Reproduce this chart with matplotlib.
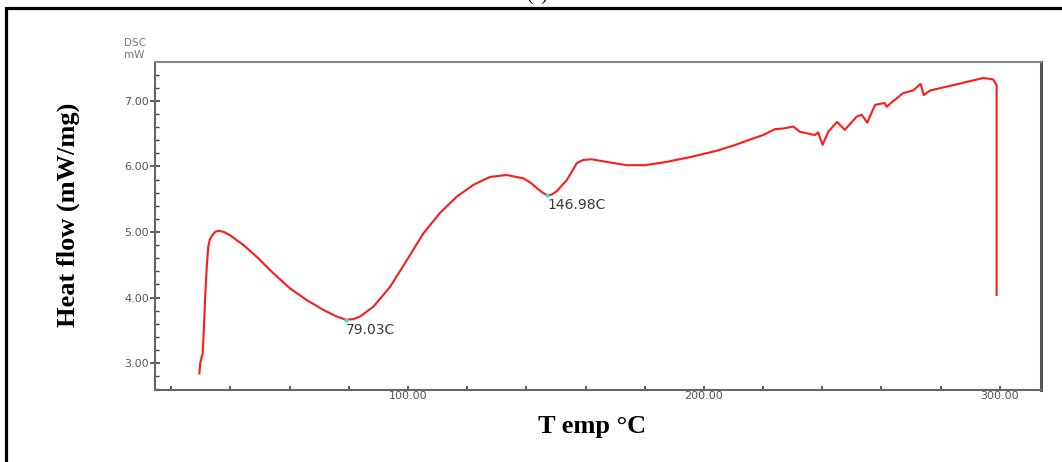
import matplotlib
matplotlib.use("Agg")
import matplotlib.pyplot as plt
from matplotlib.ticker import MultipleLocator, FixedLocator
from matplotlib.patches import Rectangle

# DSC trace: temperature (C) and heat flow (mW/mg)
temp = [29.5, 29.8, 30.6, 31.0, 31.4, 32.0, 32.5, 33.0, 33.7, 34.8, 35.9,
        37.8, 39.9, 44.4, 48.9, 54.5, 60.1, 65.8, 71.4, 75.9, 79.03,
        81.5, 83.8, 88.3, 93.9, 99.6, 105.2, 110.8, 116.5, 122.1, 127.7,
        133.3, 138.9, 141.5, 143.5, 145.5, 146.98, 148.5, 150.2, 153.6,
        155.5, 157.0, 159.2, 162.0, 167.1, 173.9, 180.0, 187.4, 196.0, 204.3,
        210.0, 215.5, 220.0, 224.0, 226.8, 230.2, 232.4, 237.5, 238.6, 240.1,
        242.0, 245.0, 247.6, 251.6, 253.3, 255.2, 257.8, 261.1, 261.7, 264.0,
        267.3, 270.7, 273.2, 274.3, 276.4, 283.1, 288.7, 294.4, 297.7, 298.9,
        298.9]
heat = [2.84, 3.00, 3.15, 3.50, 3.96, 4.47, 4.78, 4.88, 4.94, 5.00, 5.02,
        5.00, 4.95, 4.80, 4.62, 4.37, 4.14, 3.96, 3.81, 3.71, 3.66,
        3.67, 3.71, 3.86, 4.16, 4.57, 4.98, 5.29, 5.54, 5.72, 5.84,
        5.87, 5.82, 5.75, 5.67, 5.60, 5.56, 5.57, 5.62, 5.79,
        5.93, 6.05, 6.10, 6.11, 6.07, 6.02, 6.02, 6.07, 6.15, 6.24,
        6.32, 6.41, 6.48, 6.57, 6.58, 6.61, 6.53, 6.48, 6.52, 6.33,
        6.53, 6.68, 6.56, 6.76, 6.79, 6.67, 6.94, 6.97, 6.91, 7.00,
        7.12, 7.16, 7.26, 7.09, 7.16, 7.23, 7.29, 7.35, 7.33, 7.24,
        4.04]

# marked minima
peak_temps = [79.03, 146.98]
peak_vals = [3.66, 5.56]

x_ticks = [100, 200, 300]
y_ticks = [3, 4, 5, 6, 7]

fig = plt.figure(figsize=(10.62, 4.62), dpi=100)
ax = fig.add_axes([155 / 1062, 1 - 390 / 462, (1041 - 155) / 1062, (390 - 62) / 462])

ax.plot(temp, heat, color="#ff1a1a", lw=1.5, solid_joinstyle="round")
ax.plot(peak_temps, peak_vals, "o", color="#33e0e0", ms=3, mec="none")
for t, v in zip(peak_temps, peak_vals):
    ax.annotate(f"{t:.2f}C", (t, v), xytext=(0, -2), textcoords="offset points",
                ha="left", va="top", fontsize=10, color="#3a3a3a",
                family="DejaVu Sans")

ax.set_xlim(14.5, 313.9)
ax.set_ylim(2.588, 7.595)

ax.xaxis.set_major_locator(FixedLocator(x_ticks))
ax.xaxis.set_minor_locator(MultipleLocator(20))
ax.yaxis.set_major_locator(FixedLocator(y_ticks))
ax.yaxis.set_minor_locator(MultipleLocator(0.2))
ax.set_xticklabels([f"{v:.2f}" for v in x_ticks])
ax.set_yticklabels([f"{v:.2f}" for v in y_ticks])

ax.tick_params(axis="x", which="both", direction="in", length=3, width=1.2,
               color="#444444", pad=1, labelsize=8, labelcolor="#555555")
ax.tick_params(axis="y", which="major", direction="inout", length=7, width=1.2,
               color="#444444", pad=1, labelsize=8, labelcolor="#555555")
ax.tick_params(axis="y", which="minor", direction="in", length=3, width=1.0,
               color="#444444")

for name, sp in ax.spines.items():
    sp.set_color("#666666")
    sp.set_linewidth(1.5)
ax.spines["right"].set_linewidth(2.2)
ax.spines["right"].set_color("#555555")
ax.spines["top"].set_color("#888888")

# instrument header above the y axis
fig.text(124 / 1062, 1 - 43 / 462, "DSC", fontsize=7.5, color="#777777",
         va="center", ha="left")
fig.text(124 / 1062, 1 - 55 / 462, "mW", fontsize=7.5, color="#777777",
         va="center", ha="left")

serif = ["Liberation Serif", "DejaVu Serif"]
fig.text(68 / 1062, 1 - 215 / 462, "Heat flow (mW/mg)", rotation=90,
         fontsize=19, fontweight="bold", family=serif, ha="center", va="center")
fig.text(592 / 1062, 1 - 427 / 462, "T emp °C", fontsize=19, fontweight="bold",
         family=serif, ha="center", va="center")

# panel label (top edge) and outer frame
fig.text(537 / 1062, 1 - 4 / 462, "(c)", fontsize=14, family=serif,
         ha="center", va="bottom")
fig.patches.append(Rectangle((5.5 / 1062, -0.2), 1.2, 1 - 7.5 / 462 + 0.2,
                             transform=fig.transFigure, fill=False,
                             ec="black", lw=2.3))

fig.savefig("out.png", dpi=100)
